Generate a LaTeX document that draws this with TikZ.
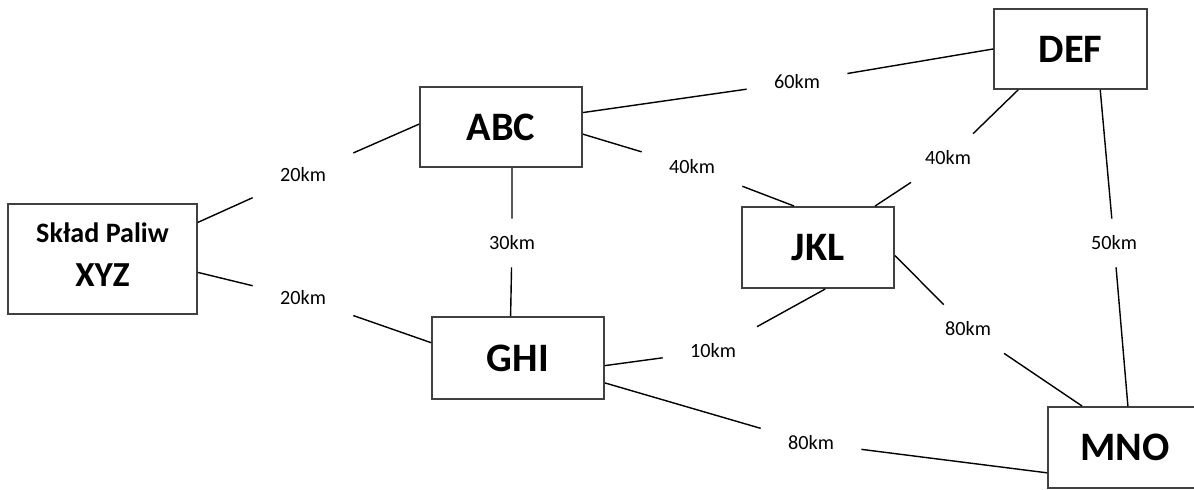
\documentclass[tikz,border=0pt]{standalone}
\usepackage{fontspec}
\setmainfont{Carlito}
\begin{document}
\begin{tikzpicture}[x=0.02cm,y=-0.02cm,
    station/.style={draw=black!75,line width=1.1pt,inner sep=0pt,font=\fontsize{23}{27}\selectfont\bfseries},
    km/.style={inner sep=0pt,minimum width=2cm,minimum height=0.96cm,font=\fontsize{11.5}{14}\selectfont},
    road/.style={line width=0.8pt}]
    \useasboundingbox (0,0) rectangle (1194,490);
    \clip (0,0) rectangle (1194,490);
    % stations
    \node[station,minimum width=3.78cm,minimum height=2.2cm,align=center,font=\fontsize{16}{19}\selectfont\bfseries] (xyz) at (102.5,259) {Skład Paliw\\[6pt]{\fontsize{20}{24}\selectfont XYZ}\rule[-5pt]{0pt}{0pt}};
    \node[station,minimum width=3.24cm,minimum height=1.6cm] (abc) at (501,127) {ABC};
    \node[station,minimum width=3.06cm,minimum height=1.6cm] (def) at (1070.5,49) {DEF};
    \node[station,minimum width=3.04cm,minimum height=1.62cm] (jkl) at (818,247.5) {JKL};
    \node[station,minimum width=3.44cm,minimum height=1.64cm] (ghi) at (518,358) {GHI};
    \node[station,minimum width=3.08cm,minimum height=1.62cm] (mno) at (1125,447.5) {MNO};
    % distances
    \node[km] (d1) at (303,175) {20km};
    \node[km] (d2) at (303,298) {20km};
    \node[km] (d3) at (512,243) {30km};
    \node[km] (d4) at (797,82) {60km};
    \node[km] (d5) at (692,167) {40km};
    \node[km] (d6) at (948,158) {40km};
    \node[km] (d7) at (1114,243) {50km};
    \node[km] (d8) at (713,351) {10km};
    \node[km] (d9) at (968,329) {80km};
    \node[km] (d10) at (811,443) {80km};
    % roads
    \draw[road] (xyz.21) -- (d1) -- (abc.178);
    \draw[road] (xyz.-8) -- (d2) -- (ghi.170);
    \draw[road] (abc.-75) -- (d3) -- (ghi.100);
    \draw[road] (abc.10) -- (d4) -- (def.180);
    \draw[road] (abc.-5) -- (d5) -- (jkl.120);
    \draw[road] (def.-142) -- (d6) -- (jkl.36);
    \draw[road] (def.-54) -- (d7) -- (mno.86);
    \draw[road] (ghi.-5) -- (d8) -- (jkl.-80);
    \draw[road] (jkl.-6) -- (d9) -- (mno.136);
    \draw[road] (ghi.-16) -- (d10) -- (mno.-162);
\end{tikzpicture}
\end{document}
